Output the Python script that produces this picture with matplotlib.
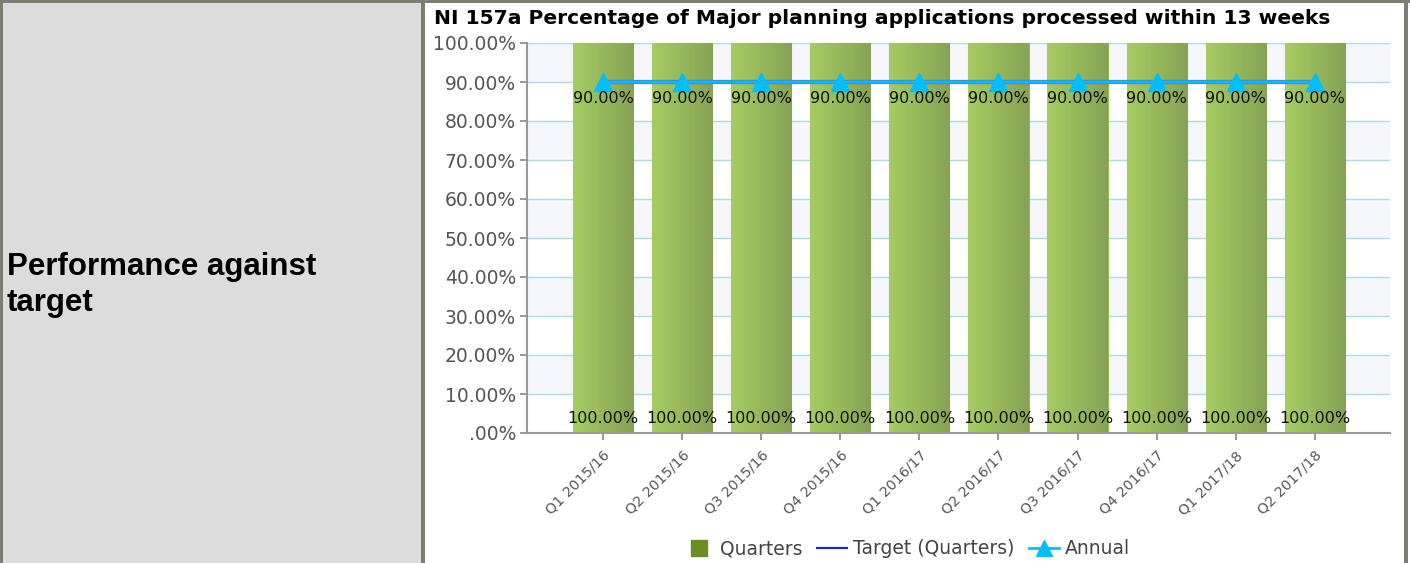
import numpy as np
import matplotlib
matplotlib.use("Agg")
import matplotlib.pyplot as plt
from matplotlib.patches import Rectangle
from matplotlib.lines import Line2D
from matplotlib.ticker import FuncFormatter

# data
quarters = ["Q1 2015/16", "Q2 2015/16", "Q3 2015/16", "Q4 2015/16",
            "Q1 2016/17", "Q2 2016/17", "Q3 2016/17", "Q4 2016/17",
            "Q1 2017/18", "Q2 2017/18"]
quarter_values = [100, 100, 100, 100, 100, 100, 100, 100, 100, 100]
target_values = [90, 90, 90, 90, 90, 90, 90, 90, 90, 90]
annual_values = [90, 90, 90, 90, 90, 90, 90, 90, 90, 90]
y_ticks = [0, 10, 20, 30, 40, 50, 60, 70, 80, 90, 100]

W, H = 1410, 563
fig = plt.figure(figsize=(W / 100, H / 100), dpi=100)
fig.patch.set_facecolor("white")

# table-like frame around the chart
border = "#7d7d70"
fig.patches.append(Rectangle((0, 0), 423 / W, 1, transform=fig.transFigure,
                             facecolor="#dcdcdc", edgecolor="none", zorder=0))
for x0, w in [(0, 3), (421, 4), (1404, 4)]:
    fig.patches.append(Rectangle((x0 / W, 0), w / W, 1, transform=fig.transFigure,
                                 facecolor=border, edgecolor="none", zorder=1))
fig.patches.append(Rectangle((0, 1 - 3 / H), 1, 3 / H, transform=fig.transFigure,
                             facecolor=border, edgecolor="none", zorder=1))

fig.text(7 / W, 1 - 267 / H, "Performance against", fontsize=22.5, fontweight="bold",
         family="Liberation Sans", va="center", ha="left")
fig.text(7 / W, 1 - 303 / H, "target", fontsize=22.5, fontweight="bold",
         family="Liberation Sans", va="center", ha="left")

ax = fig.add_axes([527 / W, 1 - 433 / H, (1390 - 527) / W, (433 - 43) / H])
x = np.arange(len(quarters))

# alternating background bands and grid
for i in range(len(y_ticks) - 1):
    if i % 2 == 1:
        ax.axhspan(y_ticks[i], y_ticks[i + 1], facecolor="#f6f7fd", edgecolor="none", zorder=0)
for t in y_ticks[1:]:
    ax.axhline(t, color="#a9dce8", lw=1, zorder=1)

# bars with left-to-right gradient
bar_w = 0.76
bars = ax.bar(x, quarter_values, width=bar_w, color="none", edgecolor="#8fbf4a",
              lw=0.8, zorder=2)
grad = np.linspace(0, 1, 64).reshape(1, -1)
cmap = matplotlib.colors.LinearSegmentedColormap.from_list("g", ["#a6cc62", "#86a355"])
for b in bars:
    im = ax.imshow(grad, cmap=cmap, aspect="auto", zorder=2,
                   extent=[b.get_x(), b.get_x() + b.get_width(), 0, b.get_height()])
    im.set_clip_path(b)
ax.set_xlim(-0.96, 9.95)
ax.set_ylim(0, 100)

ax.plot(x, target_values, color="#1a3cff", lw=3, zorder=3)
ax.plot(x, annual_values, color="#1fb4f0", lw=2.6, marker="^", markersize=13,
        markerfacecolor="#00bfff", markeredgecolor="#00bfff", zorder=4)

for xi, v in zip(x, annual_values):
    ax.text(xi, v - 4.3, f"{v:.2f}%", ha="center", va="center", fontsize=11.5,
            color="#111111", zorder=5)
for xi, v in zip(x, quarter_values):
    ax.text(xi, 3.6, f"{v:.2f}%", ha="center", va="center", fontsize=11.5,
            color="#111111", zorder=5)

ax.set_yticks(y_ticks)
ax.yaxis.set_major_formatter(FuncFormatter(lambda v, p: ".00%" if v == 0 else f"{v:.2f}%"))
ax.set_xticks(x)
ax.set_xticklabels(quarters, rotation=45, ha="right", rotation_mode="anchor")
ax.tick_params(axis="y", labelsize=13.5, colors="#888888", labelcolor="#555555",
               length=5, width=1.2, pad=3)
ax.tick_params(axis="x", labelsize=10.3, colors="#888888", labelcolor="#555555",
               length=5, width=1.2, pad=6)
for s in ["top", "right"]:
    ax.spines[s].set_visible(False)
for s in ["left", "bottom"]:
    ax.spines[s].set_color("#999999")
    ax.spines[s].set_linewidth(1.5)

fig.text(882 / W, 1 - 18 / H,
         "NI 157a Percentage of Major planning applications processed within 13 weeks",
         ha="center", va="center", fontsize=14.6, fontweight="bold")

handles = [
    Line2D([], [], linestyle="none", marker="s", markersize=12,
           markerfacecolor="#6b8e23", markeredgecolor="#6b8e23"),
    Line2D([], [], color="#1a1aff", lw=1.5),
    Line2D([], [], color="#1fb4f0", lw=2, marker="^", markersize=11,
           markerfacecolor="#00bfff", markeredgecolor="#00bfff"),
]
leg = fig.legend(handles, ["Quarters", "Target (Quarters)", "Annual"], loc="center",
                 bbox_to_anchor=(907 / W, 1 - 549 / H), ncol=3, frameon=False,
                 fontsize=13.5, handlelength=1.6, handletextpad=0.3, columnspacing=0.8)
for t in leg.get_texts():
    t.set_color("#444444")

fig.savefig("out.png", dpi=100)
